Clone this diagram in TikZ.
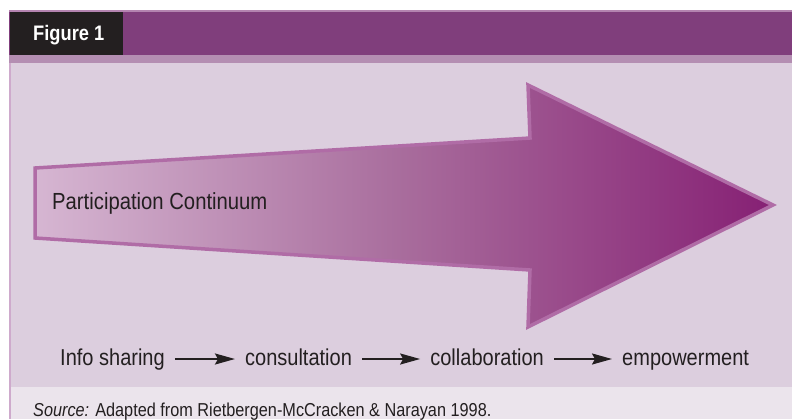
\documentclass[tikz,border=0pt]{standalone}
\usepackage{fontspec}
\setmainfont[FakeStretch=0.87]{Liberation Sans}
\usepackage{tikz}
\usetikzlibrary{arrows.meta,positioning}

\definecolor{barpurple}{RGB}{128,62,124}
\definecolor{barline}{RGB}{180,132,176}
\definecolor{barstrip}{RGB}{180,142,178}
\definecolor{panel}{RGB}{220,206,222}
\definecolor{panelfoot}{RGB}{235,228,236}
\definecolor{paneledge}{RGB}{206,170,204}
\definecolor{boxblack}{RGB}{35,31,32}
\definecolor{arrowlight}{RGB}{214,182,210}
\definecolor{arrowmid}{RGB}{168,108,156}
\definecolor{arrowdark}{RGB}{134,32,116}
\definecolor{arrowedge}{RGB}{176,108,166}
\definecolor{inktext}{RGB}{35,31,32}

\begin{document}
\begin{tikzpicture}[x=1bp,y=-1bp,>={Stealth[length=20bp,width=11bp,inset=3bp]},
	steplabel/.style={inner sep=0pt,text height=17bp,text depth=5bp,font=\fontsize{23bp}{26bp}\selectfont,text=inktext},
	flow/.style={line width=2bp,->,inktext,shorten <=10bp,shorten >=10bp}]

	\useasboundingbox (0,0) rectangle (792,419);

	% Draw the panel background and the footnote band
	\fill[panel] (9,55) rectangle (792,387);
	\fill[panelfoot] (9,387) rectangle (792,419);
	\fill[paneledge] (9,55) rectangle (11,419);

	% Draw the title bar with its black label box
	\fill[barline] (9,10) rectangle (792,12);
	\fill[barpurple] (9,12) rectangle (792,55);
	\fill[barstrip] (9,55) rectangle (792,63);
	\fill[boxblack] (10,12) rectangle (123,55);
	\node[anchor=base west,inner sep=0pt,text=white,font=\fontsize{21bp}{24bp}\selectfont\bfseries] (figlabel) at (33,40) {Figure 1};

	% Draw the big widening arrow
	\coordinate (tailtop) at (35,168);
	\coordinate (tailbot) at (35,238);
	\coordinate (shafttop) at (530,138);
	\coordinate (shaftbot) at (530,270);
	\coordinate (headtop) at (528,85);
	\coordinate (headbot) at (528,327);
	\coordinate (tip) at (773,205);
	\draw[line width=3.5bp,arrowedge,line join=miter,left color=arrowlight,right color=arrowdark,middle color=arrowmid]
		(tailtop) -- (shafttop) -- (headtop) -- (tip) -- (headbot) -- (shaftbot) -- (tailbot) -- cycle;
	\node[anchor=west,inner sep=0pt,text=inktext,font=\fontsize{23.3bp}{26bp}\selectfont] (continuum) at (52,203) {Participation Continuum};

	% Draw the row of steps with arrows between them
	\node[steplabel,anchor=base west] (info) at (60,365) {Info sharing};
	\node[steplabel,base right=80bp of info] (consult) {consultation};
	\node[steplabel,base right=78bp of consult] (collab) {collaboration};
	\node[steplabel,base right=78bp of collab] (empower) {empowerment};
	\draw[flow] (info) -- (consult);
	\draw[flow] (consult) -- (collab);
	\draw[flow] (collab) -- (empower);

	% Draw the source note
	\node[anchor=base west,inner sep=0pt,text=inktext,font=\fontsize{18.7bp}{21bp}\selectfont] (source) at (33,416)
		{\textit{Source:} Adapted from Rietbergen-McCracken \& Narayan 1998.};

\end{tikzpicture}
\end{document}
